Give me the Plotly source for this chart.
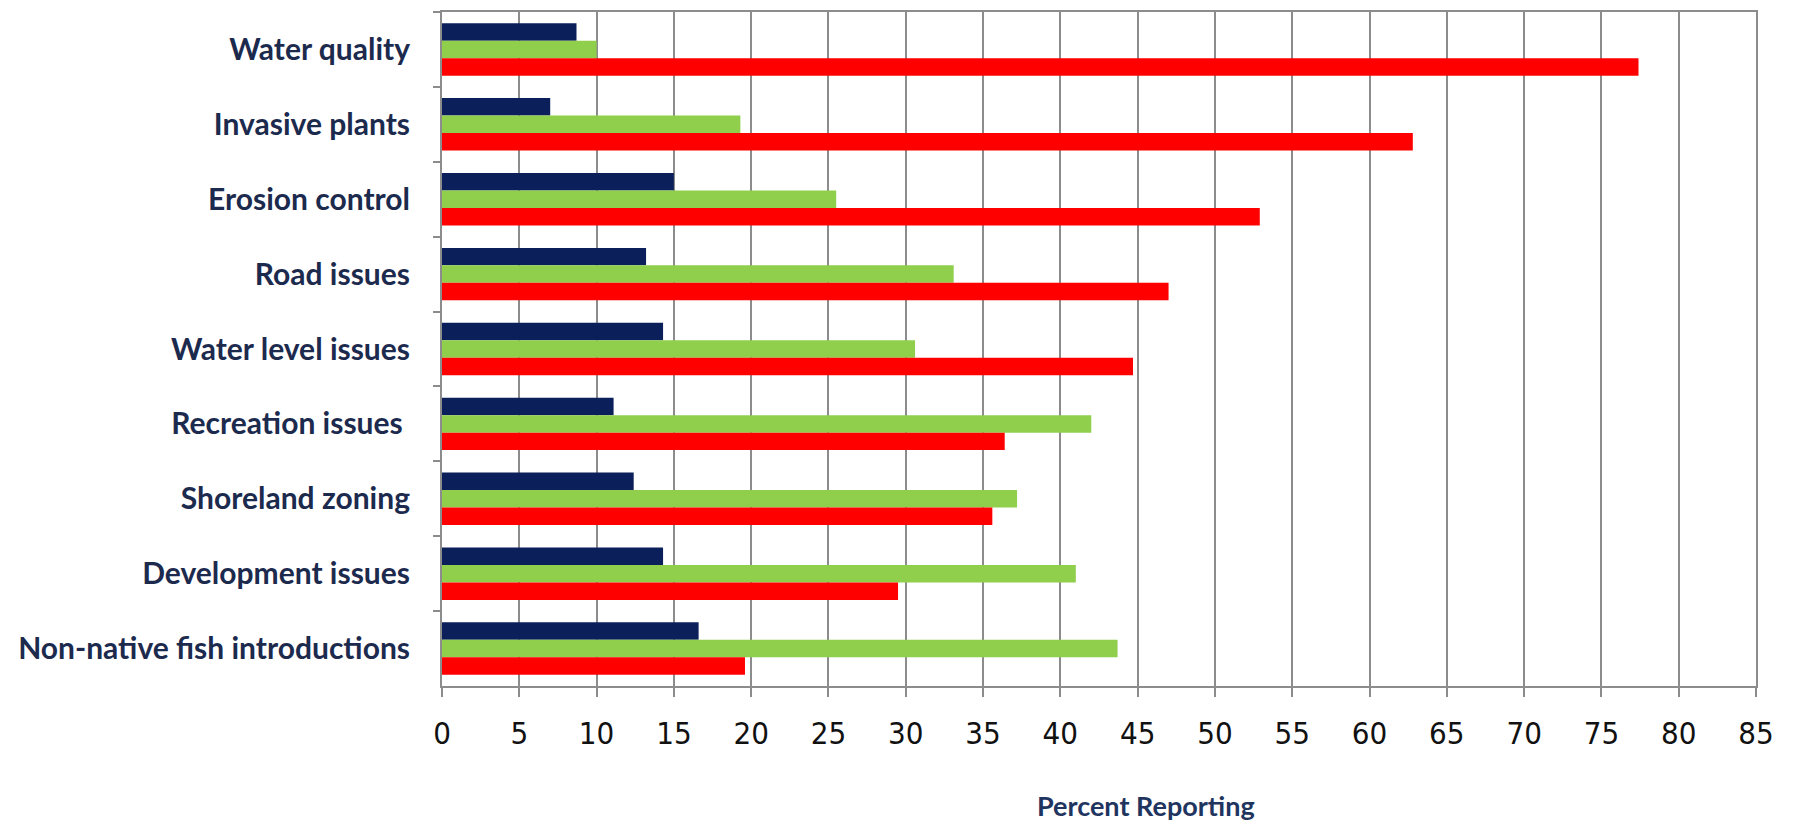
import plotly.graph_objects as go

# Issues reported, top to bottom
categories = [
    "Water quality",
    "Invasive plants",
    "Erosion control",
    "Road issues",
    "Water level issues",
    "Recreation issues ",
    "Shoreland zoning",
    "Development issues",
    "Non-native fish introductions",
]

# Percent reporting for each of the three respondent groups
navy_values = [8.7, 7.0, 15.0, 13.2, 14.3, 11.1, 12.4, 14.3, 16.6]
green_values = [10.0, 19.3, 25.5, 33.1, 30.6, 42.0, 37.2, 41.0, 43.7]
red_values = [77.4, 62.8, 52.9, 47.0, 44.7, 36.4, 35.6, 29.5, 19.6]

x_ticks = list(range(0, 90, 5))

series = [
    (navy_values, "#0b1f5b"),
    (green_values, "#8fcf4c"),
    (red_values, "#ff0000"),
]

fig = go.Figure()
for values, color in series:
    fig.add_trace(
        go.Bar(
            x=values,
            y=categories,
            orientation="h",
            marker=dict(color=color, line=dict(width=0)),
            showlegend=False,
        )
    )

label_font = "Lato, 'Open Sans', sans-serif"
tick_font = "'Liberation Sans Narrow', 'DejaVu Sans Condensed', 'Liberation Serif', sans-serif"

fig.update_layout(
    width=1797,
    height=828,
    margin=dict(l=442, r=41, t=10, b=142),
    paper_bgcolor="white",
    plot_bgcolor="white",
    barmode="group",
    bargap=0.30,
    bargroupgap=0.0,
    xaxis=dict(
        range=[0, 85],
        tickvals=x_ticks,
        ticktext=[str(v) for v in x_ticks],
        showgrid=True,
        gridcolor="#8c8c8c",
        gridwidth=1.5,
        zeroline=False,
        showline=True,
        linecolor="#8c8c8c",
        linewidth=2,
        mirror=True,
        ticks="outside",
        ticklen=9,
        tickwidth=1.5,
        tickcolor="#8c8c8c",
        ticklabelstandoff=10,
        tickfont=dict(family=tick_font, size=31, color="#111111"),
    ),
    yaxis=dict(
        autorange="reversed",
        showgrid=False,
        zeroline=False,
        showline=True,
        linecolor="#8c8c8c",
        linewidth=2,
        mirror=True,
        ticks="outside",
        tickson="boundaries",
        ticklen=7,
        tickwidth=1.5,
        tickcolor="#8c8c8c",
        ticklabelstandoff=24,
        tickfont=dict(family=label_font, size=30, color="#1c2a4e", weight="bold"),
    ),
    annotations=[
        dict(
            text="<b>Percent Reporting</b>",
            xref="paper",
            yref="paper",
            x=0.536,
            y=-0.178,
            xanchor="center",
            yanchor="middle",
            showarrow=False,
            font=dict(family=label_font, size=27, color="#1f3560"),
        )
    ],
)

fig.write_html("out.html")
